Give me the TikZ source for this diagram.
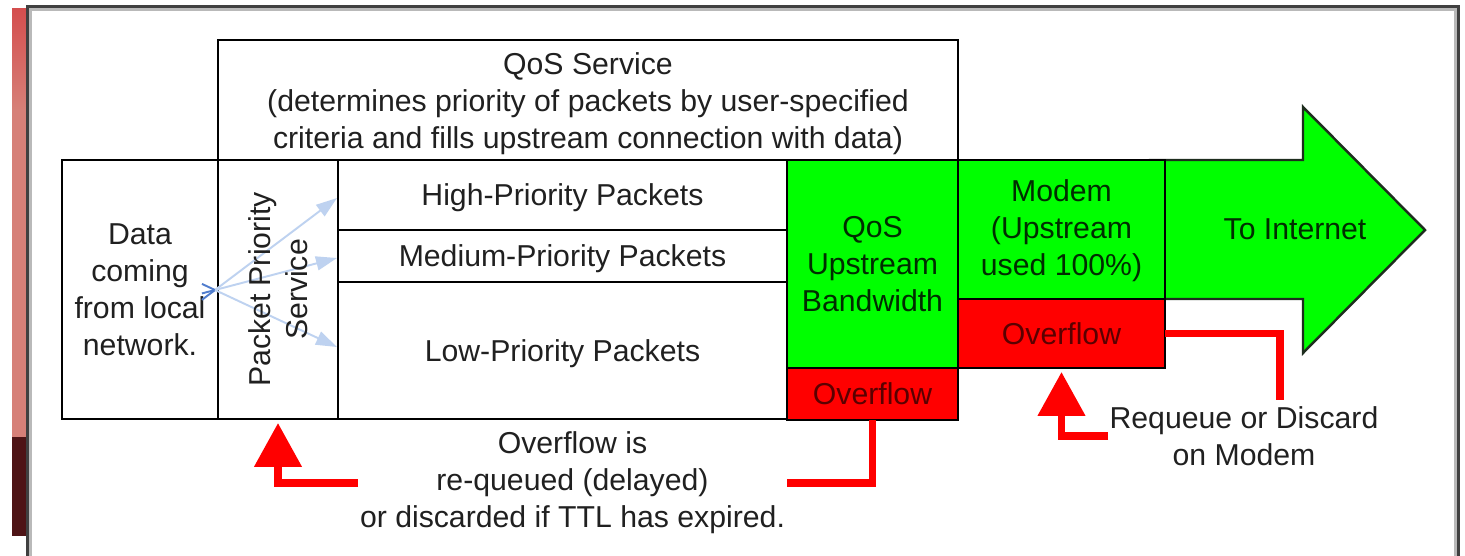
\documentclass[tikz,border=0pt]{standalone}
\usepackage{fontspec}
\setmainfont{Liberation Sans}
\usetikzlibrary{arrows.meta,calc}

\definecolor{qosgreen}{RGB}{0,255,0}
\definecolor{qosred}{RGB}{255,0,0}
\definecolor{txtgray}{RGB}{32,32,32}
\definecolor{txtgreen}{RGB}{0,45,0}
\definecolor{txtred}{RGB}{90,0,0}
\definecolor{framedark}{RGB}{64,64,64}
\definecolor{framelight}{RGB}{185,185,185}
\definecolor{outline}{RGB}{30,45,30}
\definecolor{palearrow}{RGB}{190,210,240}
\definecolor{darkarrow}{RGB}{80,125,205}
\definecolor{stripred}{RGB}{212,78,78}
\definecolor{strippink}{RGB}{214,128,120}
\definecolor{stripdark}{RGB}{78,20,22}

\newcommand\mainsz{\fontsize{17.2}{21.1}\selectfont}

\begin{document}
\begin{tikzpicture}[x=0.02cm,y=-0.02cm,
  cell/.style={draw=black, line width=1.4pt, inner sep=0pt, outer sep=0pt,
    align=center, font=\mainsz, text=txtgray, fill=white},
  greencell/.style={cell, fill=qosgreen, text=txtgreen},
  redcell/.style={cell, fill=qosred, text=txtred},
  oneline/.style={text height=12.3pt, text depth=0pt},
  label/.style={inner sep=0pt, outer sep=0pt, align=center, font=\mainsz, text=txtgray},
  redline/.style={draw=qosred, line width=4.5pt},
  redtip/.style={-{Triangle[length=0.88cm,width=0.92cm]}, shorten >=0.08cm},
  paleline/.style={draw=palearrow, line width=1.1pt,
    -{Triangle[length=0.42cm,width=0.28cm]}},
  darkline/.style={draw=darkarrow, line width=1.1pt}]

  % page extent
  \useasboundingbox (0,0) rectangle (1465,555);

  % strip of background photo at the left edge
  \shade[top color=stripred, bottom color=strippink] (12,8) rectangle (27,110);
  \fill[strippink] (12,110) rectangle (27,437);
  \fill[stripdark] (12,437) rectangle (27,536);

  % window frame
  \draw[framelight, line width=1.7pt] (30.5,556) |- (1455,9.5) -- (1455,556);
  \draw[framedark, line width=1.7pt] (27.5,556) |- (1458,6.5) -- (1458,556);

  % big arrow towards the Internet
  \draw[fill=qosgreen, draw=outline, line width=1.4pt]
    (1150,160) -- (1303,160) -- (1303,107) -- (1425,230)
    -- (1303,353) -- (1303,299) -- (1150,299) -- cycle;
  \node[label, text=txtgreen, oneline] (tonet) at (1295,229) {To Internet};

  % QoS service header
  \node[cell, minimum width=14.8cm, minimum height=2.4cm] (qsvc) at (588,100) {};
  \node[label] (qsvctxt) at (588,104)
    {QoS Service\\(determines priority of packets by user-specified\\criteria and fills upstream connection with data)};

  % incoming data and packet classifier
  \node[cell, minimum width=3.12cm, minimum height=5.18cm] (data) at (140,289.5)
    {Data\\coming\\from local\\network.};
  \node[cell, minimum width=2.4cm, minimum height=5.18cm] (pps) at (278,289.5) {};

  % priority queues
  \node[cell, oneline, minimum width=8.98cm, minimum height=1.4cm] (hi) at (562.5,195)
    {High-Priority Packets};
  \node[cell, oneline, minimum width=8.98cm, minimum height=1.04cm] (med) at (562.5,256)
    {Medium-Priority Packets};
  \node[cell, oneline, minimum width=8.98cm, minimum height=2.74cm] (lo) at (562.5,350.5)
    {Low-Priority Packets};

  % classifier fan-out, under the classifier label
  \coordinate (o) at (215,290);
  \coordinate (t1) at (337,198);
  \coordinate (t2) at (337,258);
  \coordinate (t3) at (337,347);
  \foreach \t in {t1,t2,t3}{
    \draw[darkline] ($(o)!-0.107!(\t)$) -- (o);
    \draw[paleline] (o) -- (\t);
  }
  \node[label, rotate=90] (ppstxt) at (pps.center) {Packet Priority\\Service};

  % upstream bandwidth and modem
  \node[greencell, minimum width=3.42cm, minimum height=4.16cm] (qbw) at (872.5,264)
    {QoS\\Upstream\\Bandwidth};
  \node[redcell, oneline, minimum width=3.42cm, minimum height=1.04cm] (qovf) at (872.5,394)
    {Overflow};
  \node[greencell, minimum width=4.14cm, minimum height=2.78cm] (modem) at (1061.5,229.5) {};
  \node[label, text=txtgreen] (modemtxt) at (1061.5,231)
    {Modem\\(Upstream\\used 100\%)};
  \node[redcell, oneline, minimum width=4.14cm, minimum height=1.38cm] (movf) at (1061.5,333.5)
    {Overflow};

  % overflow handling notes
  \node[label, minimum width=8.58cm] (btxt) at (572.5,483)
    {Overflow is\\re-queued (delayed)\\or discarded if TTL has expired.};
  \node[label, minimum width=5.44cm] (rtxt) at (1244,436)
    {Requeue or Discard\\on Modem};
  \coordinate (rdrop) at (1280,400);

  % red feedback connectors
  \draw[redline] (qovf.south) |- (btxt.east);
  \draw[redline, redtip] (btxt.west) -| (pps.south);
  \draw[redline, redtip] (rtxt.west) -| (movf.south);
  \draw[redline] (movf.east) -| (rdrop);
\end{tikzpicture}
\end{document}
